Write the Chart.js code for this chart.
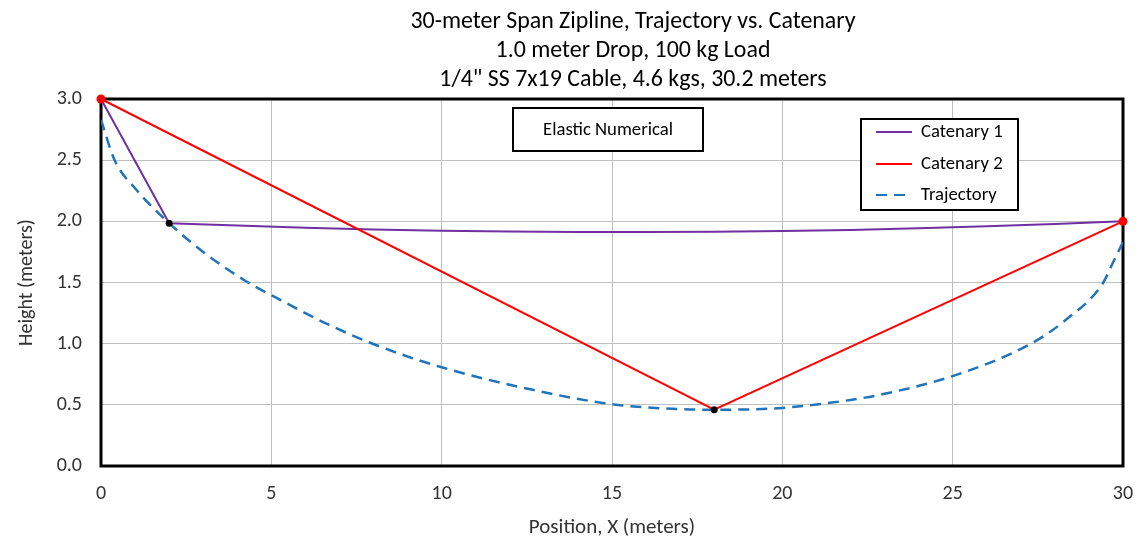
<!DOCTYPE html>
<html>
<head>
<meta charset="utf-8">
<script src="https://cdn.jsdelivr.net/npm/chart.js@4/dist/chart.umd.min.js"></script>
<style>
html,body{margin:0;padding:0;background:#fff;}
#wrap{width:1142px;height:549px;position:relative;}
</style>
</head>
<body>
<div id="wrap"><canvas id="c" width="1142" height="549"></canvas></div>
<script>
const titleLines = ["30-meter Span Zipline, Trajectory vs. Catenary", "1.0 meter Drop, 100 kg Load", "1/4\" SS 7x19 Cable, 4.6 kgs, 30.2 meters"];
const annotationText = "Elastic Numerical";
const seriesNames = ["Catenary 1", "Catenary 2", "Trajectory"];

const cat1X = [0, 2, 4, 6, 8, 10, 12, 14, 16, 18, 20, 22, 24, 26, 28, 30];
const cat1Y = [3.0, 1.985, 1.965, 1.948, 1.934, 1.924, 1.917, 1.913, 1.912, 1.915, 1.921, 1.930, 1.943, 1.959, 1.978, 2.0];

const cat2X = [0, 18, 30];
const cat2Y = [3.0, 0.46, 2.0];

const trajX = [0, 0.4, 1, 2, 3, 4.2, 5.25, 6.7, 8.2, 10, 12.6, 15, 17, 18, 20, 22, 23, 25, 27.3, 28.3, 29.4, 29.7, 30];
const trajY = [2.83, 2.5, 2.27, 1.985, 1.75, 1.52, 1.36, 1.153, 0.975, 0.807, 0.627, 0.505, 0.465, 0.46, 0.475, 0.54, 0.59, 0.735, 1.0, 1.19, 1.49, 1.66, 1.83];

const FONT = "Carlito, Lato, 'Liberation Sans', sans-serif";
const toPts = (xs, ys) => xs.map((x, i) => ({x: x, y: ys[i]}));

const cat1Pts = toPts(cat1X, cat1Y);
const cat2Pts = toPts(cat2X, cat2Y);
const trajPts = toPts(trajX, trajY);

const colors = {cat1: '#7030A0', cat2: '#FF0000', traj: '#1F74BA'};

const decorPlugin = {
  id: 'decor',
  beforeDatasetsDraw(chart) {
    const {ctx, chartArea: a} = chart;
    ctx.save();
    ctx.strokeStyle = '#000';
    ctx.lineWidth = 3;
    ctx.strokeRect(a.left, a.top, a.right - a.left, a.bottom - a.top);
    ctx.restore();
  },
  afterDraw(chart) {
    const {ctx} = chart;
    ctx.save();
    ctx.fillStyle = '#000';
    ctx.textAlign = 'center';
    ctx.textBaseline = 'middle';
    ctx.font = "19px " + FONT;
    const w0 = ctx.measureText(titleLines[0]).width;
    const fs = Math.max(14, Math.min(25, 19 * 446 / w0));
    ctx.font = fs.toFixed(1) + "px " + FONT;
    const ty = [22, 51, 80];
    titleLines.forEach((t, i) => ctx.fillText(t, 633, ty[i]));

    ctx.fillStyle = '#fff';
    ctx.fillRect(513, 108, 190, 43);
    ctx.strokeStyle = '#000';
    ctx.lineWidth = 2;
    ctx.strokeRect(513, 108, 190, 43);
    ctx.fillStyle = '#000';
    ctx.font = "18.7px " + FONT;
    ctx.fillText(annotationText, 608, 130);

    ctx.fillStyle = '#fff';
    ctx.fillRect(861, 119, 157, 91);
    ctx.strokeRect(861, 119, 157, 91);
    const rows = [132, 164, 195];
    const cols = [colors.cat1, colors.cat2, colors.traj];
    ctx.textAlign = 'left';
    seriesNames.forEach((n, i) => {
      ctx.strokeStyle = cols[i];
      ctx.lineWidth = 2;
      ctx.setLineDash(i === 2 ? [11, 7] : []);
      ctx.beginPath();
      ctx.moveTo(876, rows[i]);
      ctx.lineTo(912, rows[i]);
      ctx.stroke();
      ctx.setLineDash([]);
      ctx.fillStyle = '#000';
      ctx.fillText(n, 921, rows[i]);
    });
    ctx.restore();
  }
};

new Chart(document.getElementById('c'), {
  type: 'scatter',
  data: {
    datasets: [
      {
        label: seriesNames[1],
        data: cat2Pts,
        showLine: true,
        borderColor: colors.cat2,
        borderWidth: 2,
        pointRadius: [4.5, 3.5, 4.5],
        pointBackgroundColor: ['#FF0000', '#000000', '#FF0000'],
        pointBorderWidth: 0,
        tension: 0,
        clip: false,
        order: 1
      },
      {
        label: seriesNames[0],
        data: cat1Pts,
        showLine: true,
        borderColor: colors.cat1,
        borderWidth: 2,
        pointRadius: cat1Pts.map((p, i) => i === 1 ? 3.5 : 0),
        pointBackgroundColor: '#000',
        pointBorderWidth: 0,
        tension: 0,
        clip: false,
        order: 2
      },
      {
        label: seriesNames[2],
        data: trajPts,
        showLine: true,
        borderColor: colors.traj,
        borderWidth: 2.5,
        borderDash: [11, 7],
        pointRadius: 0,
        cubicInterpolationMode: 'monotone',
        order: 3
      }
    ]
  },
  plugins: [decorPlugin],
  options: {
    responsive: false,
    animation: false,
    devicePixelRatio: 1,
    layout: {padding: {top: 99, right: 19, left: 0, bottom: 0}},
    plugins: {
      legend: {display: false},
      title: {display: false},
      tooltip: {enabled: false}
    },
    scales: {
      x: {
        type: 'linear',
        min: 0, max: 30,
        afterFit(s) { s.height = 83; s.paddingLeft = 0; s.paddingRight = 0; },
        ticks: {stepSize: 5, padding: 16, color: '#333', font: {family: FONT, size: 20}},
        grid: {color: '#BFBFBF', lineWidth: 1, drawTicks: false},
        border: {display: false},
        title: {display: true, text: 'Position, X (meters)', color: '#333', font: {family: FONT, size: 21}, padding: {top: 0, bottom: 9}}
      },
      y: {
        type: 'linear',
        min: 0, max: 3,
        afterFit(s) { s.width = 101; s.paddingTop = 0; s.paddingBottom = 0; },
        ticks: {stepSize: 0.5, padding: 19, color: '#333', font: {family: FONT, size: 20}, callback: v => Number(v).toFixed(1)},
        grid: {color: '#BFBFBF', lineWidth: 1, drawTicks: false},
        border: {display: false},
        title: {display: true, text: 'Height (meters)', color: '#333', font: {family: FONT, size: 20}, padding: {top: 15, bottom: 0}}
      }
    }
  }
});
</script>
</body>
</html>
